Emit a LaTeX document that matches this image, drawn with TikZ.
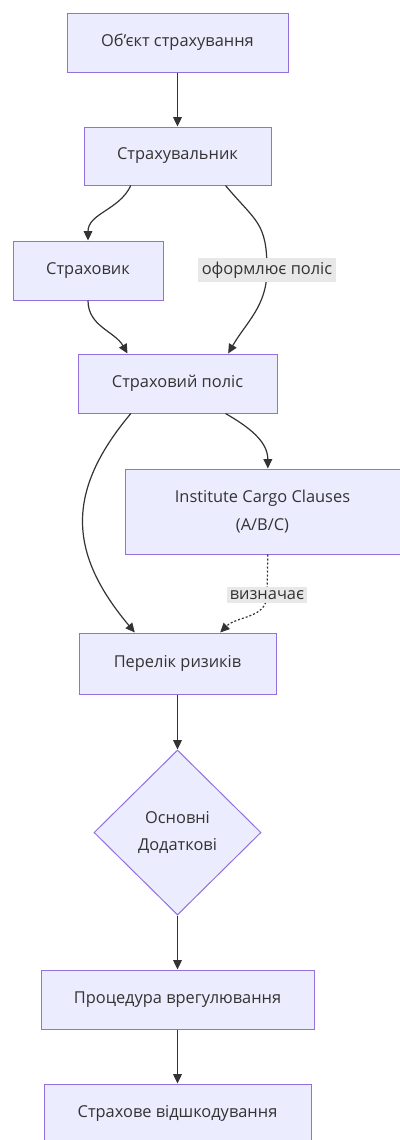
\documentclass[tikz,border=0pt]{standalone}
\usepackage{fontspec}
\setmainfont{Open Sans}
\usetikzlibrary{arrows.meta,shapes.geometric}
\definecolor{boxfill}{HTML}{ECECFF}
\definecolor{boxline}{HTML}{9370DB}
\definecolor{inkgray}{HTML}{333333}
\definecolor{labelbg}{HTML}{E8E8E8}
\begin{document}
\begin{tikzpicture}[x=0.75pt, y=0.75pt, font=\fontsize{12.3}{20.5}\selectfont,
  box/.style={draw=boxline, fill=boxfill, line width=0.75pt, align=center, inner sep=0pt, text=inkgray, minimum height=44.25pt},
  arr/.style={draw=inkgray, line width=0.9pt, -{Triangle[length=7pt,width=6.5pt]}},
  lab/.style={fill=labelbg, inner sep=2.5pt, text=inkgray}]
\useasboundingbox (0,0) rectangle (400,-1140);
\node[box, minimum width=165.75pt] (obj) at (177.5,-42.5) {Об’єкт страхування};
\node[box, minimum width=140.25pt, minimum height=43.5pt] (insd) at (177.5,-156) {Страхувальник};
\node[box, minimum width=112.5pt] (insr) at (88,-270.5) {Страховик};
\node[box, minimum width=149.25pt] (pol) at (177.5,-383.5) {Страховий поліс};
\node[box, minimum width=206.25pt, minimum height=63.75pt] (icc) at (262.5,-511.5) {Institute Cargo Clauses\\(A/B/C)};
\node[box, minimum width=147.75pt, minimum height=45.75pt] (risk) at (177.5,-663.5) {Перелік ризиків};
\node[box, diamond, minimum width=125.25pt, minimum height=123.75pt] (kind) at (177.5,-832.5) {Основні\\Додаткові};
\node[box, minimum width=204.75pt] (proc) at (177.5,-999.5) {Процедура врегулювання};
\node[box, minimum width=200.25pt] (comp) at (177.5,-1113.5) {Страхове відшкодування};
\coordinate (via1) at (267,-270);
\coordinate (via2) at (267,-595);
\draw[arr] (obj) -- (insd);
\draw[arr] ([xshift=-35pt]insd.south) to[out=-115,in=90] (insr.north);
\draw[arr] ([xshift=36pt]insd.south) to[out=-50,in=90,looseness=1.3] (via1) node[lab] {оформлює поліс} to[out=-90,in=60] ([xshift=38pt]pol.north);
\draw[arr] (insr.south) to[out=-90,in=120] ([xshift=-37.5pt]pol.north);
\draw[arr] ([xshift=36pt]pol.south) to[out=-30,in=90] ([xshift=4pt]icc.north);
\draw[arr] ([xshift=-35pt]pol.south) to[out=-130,in=130,looseness=1.2] ([xshift=-32pt]risk.north);
\draw[arr, dash pattern=on 1.5pt off 1.5pt] ([xshift=4pt]icc.south) -- (via2) node[lab] {визначає} to[out=-90,in=45] ([xshift=32pt]risk.north);
\draw[arr] (risk) -- (kind);
\draw[arr] (kind) -- (proc);
\draw[arr] (proc) -- (comp);
\end{tikzpicture}
\end{document}
